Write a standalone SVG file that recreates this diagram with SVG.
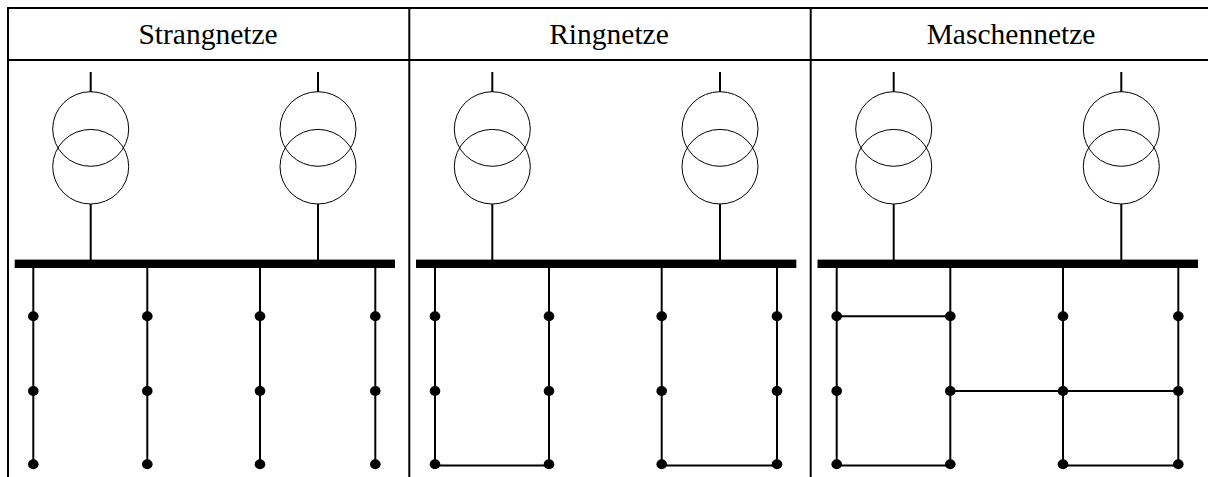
<svg xmlns="http://www.w3.org/2000/svg" width="1208" height="477" viewBox="0 0 1208 477">
<style>
.frame{stroke:#000;stroke-width:2;fill:none}
.wire{stroke:#000;stroke-width:2;fill:none}
.coil{stroke:#000;stroke-width:1;fill:none}
.bus{fill:#000}
.dot{fill:#000}
text{font-family:"Liberation Serif","Times New Roman",serif;font-size:29.5px;fill:#000;text-anchor:middle}
</style>
<defs>
<g id="tr"><line class="wire" x1="0" y1="72" x2="0" y2="92"/><ellipse class="coil" cx="0" cy="129" rx="38" ry="37.3"/><ellipse class="coil" cx="0" cy="166.7" rx="38" ry="37.3"/><line class="wire" x1="0" y1="204" x2="0" y2="260"/></g>
<g id="pts"><line class="wire" x1="0" y1="268" x2="0" y2="464"/><ellipse class="dot" cy="316.2" rx="5.3" ry="5"/><ellipse class="dot" cy="391" rx="5.3" ry="5"/><ellipse class="dot" cy="464.3" rx="5.3" ry="5"/></g>
</defs>
<g id="frame"><path class="frame" d="M8 477V8H1208M409.3 8V477M810.7 8V477M8 60H1208"/></g>
<g id="headers"><text x="208" y="43.5">Strangnetze</text><text x="609" y="43.5">Ringnetze</text><text x="1011" y="43.5">Maschennetze</text></g>
<g id="panel-strang"><use href="#tr" x="90.7"/><use href="#tr" x="318"/><rect class="bus" x="14.7" y="259.6" width="380.3" height="8.4"/><use href="#pts" x="33.3"/><use href="#pts" x="147.3"/><use href="#pts" x="260"/><use href="#pts" x="375.3"/></g>
<g id="panel-ring"><use href="#tr" x="492.3"/><use href="#tr" x="720"/><rect class="bus" x="416" y="259.6" width="380.3" height="8.4"/><use href="#pts" x="435"/><use href="#pts" x="549"/><use href="#pts" x="661.7"/><use href="#pts" x="777"/></g>
<g id="panel-masche"><use href="#tr" x="893.7"/><use href="#tr" x="1121.3"/><rect class="bus" x="817.5" y="259.6" width="380.5" height="8.4"/><use href="#pts" x="836.7"/><use href="#pts" x="950.3"/><use href="#pts" x="1063"/><use href="#pts" x="1178.3"/></g>
<g id="connectors"><path class="wire" d="M435 465.5H549M661.7 465.5H777M836.7 316.2H950.3M950.3 391H1178.3M836.7 465.5H950.3M1063 465.5H1178.3"/></g>
</svg>
